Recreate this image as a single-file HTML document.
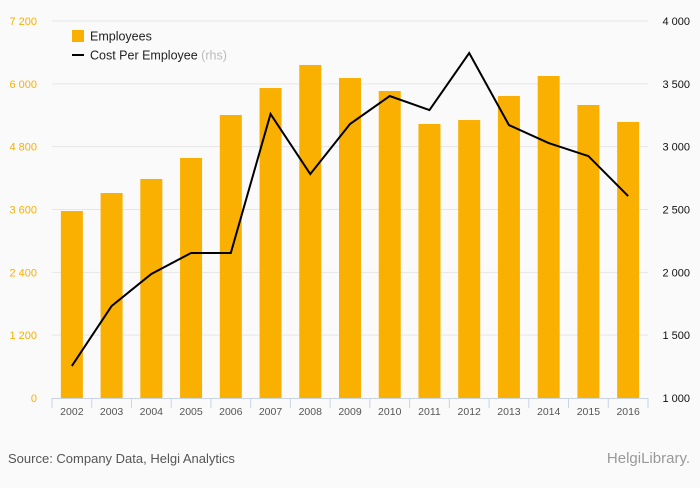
<!DOCTYPE html>
<html><head><meta charset="utf-8"><style>
body{margin:0;background:#fafafa;font-family:"Liberation Sans",sans-serif;}
#wrap{position:relative;width:700px;height:483px;background:#fafafa;}
svg text{font-family:"Liberation Sans",sans-serif;}
</style></head><body>
<div id="wrap">
<svg id="chart" width="700" height="483">
<rect x="0" y="0" width="700" height="430" fill="#fafafa"/>
<g id="grid"></g><g id="bars"></g><g id="line"></g><g id="axes"></g>
<g>
<rect x="72" y="30" width="12" height="12" fill="#f9b000"/>
<text x="90" y="40.5" font-size="12.5" fill="#222">Employees</text>
<line x1="72" y1="55" x2="84" y2="55" stroke="#000" stroke-width="2"/>
<text x="90" y="59.5" font-size="12.5" fill="#222">Cost Per Employee <tspan fill="#bbb">(rhs)</tspan></text>
</g>
<text x="8" y="463" font-size="13" fill="#555">Source: Company Data, Helgi Analytics</text>
<text x="690" y="463" font-size="15" fill="#999" text-anchor="end">HelgiLibrary.</text>
</svg></div>
<script>
const categories=["2002","2003","2004","2005","2006","2007","2008","2009","2010","2011","2012","2013","2014","2015","2016"];
const employees=[3571,3915,4183,4584,5405,5920,6360,6111,5863,5233,5309,5768,6150,5596,5271];
const costPerEmployee=[1255,1732,1987,2154,2154,3260,2782,3180,3403,3291,3745,3172,3029,2925,2607];
const leftTicks=[0,1200,2400,3600,4800,6000,7200];
const leftTickLabels=["0","1 200","2 400","3 600","4 800","6 000","7 200"];
const rightTicks=[1000,1500,2000,2500,3000,3500,4000];
const rightTickLabels=["1 000","1 500","2 000","2 500","3 000","3 500","4 000"];
const NS="http://www.w3.org/2000/svg";
const X0=52,X1=648,Y0=398,Y1=21;
const band=(X1-X0)/categories.length;
const xc=i=>X0+band*(i+0.5);
const yL=v=>Y0-(v/7200)*(Y0-Y1);
const yR=v=>Y0-((v-1000)/3000)*(Y0-Y1);
function mk(t,a,p){const e=document.createElementNS(NS,t);for(const k in a)e.setAttribute(k,a[k]);p.appendChild(e);return e;}
const grid=document.getElementById('grid'),bars=document.getElementById('bars'),line=document.getElementById('line'),axes=document.getElementById('axes');
leftTicks.forEach((v,i)=>{
 if(i>0){const g=mk('line',{x1:X0,x2:X1,y1:yL(v),y2:yL(v),stroke:'#e6e6e6'},grid);
 
 }
 const t=mk('text',{x:37,y:yL(v)+4,'font-size':11,fill:'#f9b000','text-anchor':'end'},axes);t.textContent=leftTickLabels[i];
 
 
});
rightTicks.forEach((v,i)=>{
 const t=mk('text',{x:690,y:yR(v)+4,'font-size':11,fill:'#111','text-anchor':'end'},axes);t.textContent=rightTickLabels[i];
 
 
});
employees.forEach((v,i)=>{
 const r=mk('rect',{x:xc(i)-11,y:yL(v),width:22,height:Y0-yL(v),fill:'#f9b000'},bars);
 
 
});
const pl=mk('polyline',{points:costPerEmployee.map((v,i)=>xc(i)+','+yR(v)).join(' '),fill:'none',stroke:'#000','stroke-width':2},line);


const ax=mk('line',{x1:X0,x2:X1,y1:Y0+0.5,y2:Y0+0.5,stroke:'#c8d4e6'},axes);


for(let i=0;i<=categories.length;i++){const tk=mk('line',{x1:X0+band*i,x2:X0+band*i,y1:Y0,y2:Y0+10,stroke:'#c8d4e6'},axes);
 
 }
categories.forEach((c,i)=>{const t=mk('text',{x:xc(i),y:415,'font-size':10.5,fill:'#555','text-anchor':'middle'},axes);t.textContent=c;
 
 });
</script></body></html>
